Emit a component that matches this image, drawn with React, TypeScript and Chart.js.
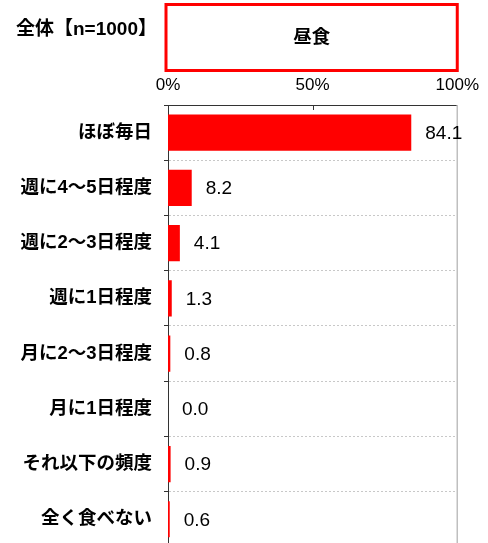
import React, { useEffect, useRef } from "react";
import { Chart, registerables } from "chart.js";

Chart.register(...registerables);

const categories = [
  "ほぼ毎日",
  "週に4～5日程度",
  "週に2～3日程度",
  "週に1日程度",
  "月に2～3日程度",
  "月に1日程度",
  "それ以下の頻度",
  "全く食べない",
];
const values = [84.1, 8.2, 4.1, 1.3, 0.8, 0.0, 0.9, 0.6];
const headerTitle = "昼食";
const sampleLabel = "全体【n=1000】";
const xTicks = [0, 50, 100];

const FONT = '"Liberation Sans", "Noto Sans CJK JP", sans-serif';
const H = 570;

const overlayPlugin = {
  id: "overlay",
  afterDraw(chart: any) {
    const { ctx, chartArea } = chart;
    const xs = chart.scales.x;
    ctx.save();
    // right border
    ctx.strokeStyle = "#bfbfbf";
    ctx.lineWidth = 1.5;
    ctx.beginPath();
    ctx.moveTo(chartArea.right, chartArea.top);
    ctx.lineTo(chartArea.right, chartArea.bottom);
    ctx.stroke();
    // inner tick at 50%
    const mid = Math.round(xs.getPixelForValue(50)) + 0.5;
    ctx.strokeStyle = "#333";
    ctx.lineWidth = 1;
    ctx.beginPath();
    ctx.moveTo(mid, chartArea.top);
    ctx.lineTo(mid, chartArea.top + 5);
    ctx.stroke();
    // header box
    const left = xs.getPixelForValue(0) - 2;
    const right = xs.getPixelForValue(100);
    ctx.strokeStyle = "#ff0000";
    ctx.lineWidth = 3;
    ctx.strokeRect(left, 4.5, right - left, 66);
    ctx.fillStyle = "#000";
    ctx.font = "bold 18.5px " + FONT;
    ctx.textAlign = "center";
    ctx.textBaseline = "middle";
    ctx.fillText(headerTitle, (left + right) / 2, 38);
    ctx.font = "bold 19px " + FONT;
    ctx.textAlign = "left";
    ctx.fillText(sampleLabel, 16, 30);
    // value labels
    const meta = chart.getDatasetMeta(0);
    ctx.font = "19px " + FONT;
    ctx.textAlign = "left";
    meta.data.forEach((bar: any, i: number) => {
      ctx.fillText(values[i].toFixed(1), bar.x + 14, bar.y + 1);
    });
    ctx.restore();
  },
};

export default function App() {
  const ref = useRef<HTMLCanvasElement>(null);
  useEffect(() => {
    if (!ref.current) return;
    const chart = new Chart(ref.current, {
      type: "bar",
      data: {
        labels: categories,
        datasets: [
          {
            data: values,
            backgroundColor: "#ff0000",
            borderWidth: 0,
            barPercentage: 0.655,
            categoryPercentage: 1,
          },
        ],
      },
      options: {
        indexAxis: "y",
        animation: false,
        responsive: false,
        maintainAspectRatio: false,
        layout: { padding: { left: 0, right: 29, top: 0, bottom: 3 } },
        plugins: { legend: { display: false }, tooltip: { enabled: false } },
        scales: {
          x: {
            position: "top",
            min: 0,
            max: 100,
            afterBuildTicks(scale: any) {
              scale.ticks = xTicks.map((v) => ({ value: v }));
            },
            afterFit(scale: any) {
              scale.height = 105;
            },
            ticks: {
              callback: (v: any) => v + "%",
              color: "#000",
              font: { family: FONT, size: 17 },
              padding: 9,
              maxRotation: 0,
              autoSkip: false,
            },
            grid: { display: false, drawTicks: false, tickLength: 0 },
            border: { display: true, color: "#333", width: 1 },
          },
          y: {
            afterFit(scale: any) {
              scale.width = 168;
            },
            ticks: {
              color: "#000",
              font: { family: FONT, size: 18.5, weight: "bold" },
              padding: 12,
              autoSkip: false,
            },
            grid: {
              display: true,
              offset: true,
              color: "#c8c8c8",
              tickColor: "#333",
              tickBorderDash: [],
              tickLength: 4,
              lineWidth: 1,
            },
            border: { display: true, color: "#333", width: 1, dash: [2, 2] },
          },
        },
      },
      plugins: [overlayPlugin],
    } as any);
    return () => chart.destroy();
  }, []);
  return (
    <div style={{ position: "fixed", left: 0, top: 0, width: 488, height: H, background: "#fff" }}>
      <canvas ref={ref} width={488} height={H} style={{ display: "block", width: 488, height: H }} />
    </div>
  );
}
